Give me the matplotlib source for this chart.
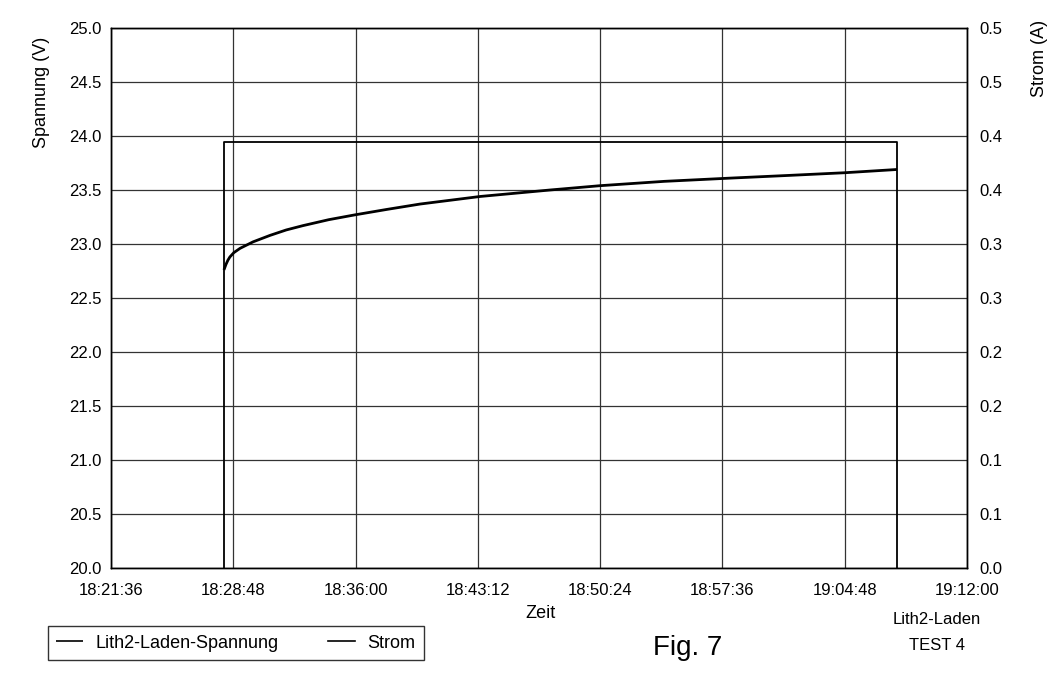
import matplotlib
matplotlib.use("Agg")
import matplotlib.pyplot as plt
from matplotlib.ticker import FuncFormatter, FixedLocator

plt.rcParams['font.family'] = ['Liberation Sans', 'DejaVu Sans']

# --- data -------------------------------------------------------------
x_start = "18:21:36"
x_end = "19:12:00"
tick_step_s = 432  # 7:12

volt_times = ["18:28:15", "18:28:22", "18:28:29", "18:28:36", "18:28:50", "18:29:12",
              "18:29:35", "18:29:58", "18:30:58", "18:31:55",
              "18:32:54", "18:34:25", "18:35:58", "18:37:50", "18:39:48", "18:43:20",
              "18:47:27", "18:50:24", "18:54:10", "18:58:03", "19:01:30", "19:04:49",
              "19:07:53"]
volt_values = [22.76, 22.81, 22.85, 22.88, 22.92, 22.96,
               22.99, 23.02, 23.08, 23.13,
               23.17, 23.225, 23.27, 23.32, 23.37, 23.44,
               23.50, 23.54, 23.58, 23.61, 23.635, 23.66,
               23.69]

curr_times = ["18:28:15", "18:28:15", "19:07:53", "19:07:53"]
curr_values = [0.0, 0.394, 0.394, 0.0]

volt_ticks = [20.0, 20.5, 21.0, 21.5, 22.0, 22.5, 23.0, 23.5, 24.0, 24.5, 25.0]
curr_ticks = [0.0, 0.05, 0.10, 0.15, 0.20, 0.25, 0.30, 0.35, 0.40, 0.45, 0.50]
curr_tick_labels = ["0.0", "0.1", "0.1", "0.2", "0.2", "0.3", "0.3", "0.4", "0.4", "0.5", "0.5"]


def to_s(t):
    h, m, s = (int(v) for v in t.split(":"))
    return h * 3600 + m * 60 + s


def fmt_time(v, pos=None):
    v = int(round(v))
    return f"{v // 3600:02d}:{(v % 3600) // 60:02d}:{v % 60:02d}"


W, H = 1055, 680
fig = plt.figure(figsize=(W / 100, H / 100), dpi=100)
L, R, T, B = 111, 967, 28, 568
ax = fig.add_axes([L / W, 1 - B / H, (R - L) / W, (B - T) / H])
ax2 = ax.twinx()

xs, xe = to_s(x_start), to_s(x_end)
ax.set_xlim(xs, xe)
ax.set_ylim(20, 25)
ax2.set_ylim(0, 0.5)

ax.xaxis.set_major_locator(FixedLocator(list(range(xs, xe + 1, tick_step_s))))
ax.xaxis.set_major_formatter(FuncFormatter(fmt_time))
ax.set_yticks(volt_ticks)
ax.set_yticklabels([f"{v:.1f}" for v in volt_ticks])
ax2.set_yticks(curr_ticks)
ax2.set_yticklabels(curr_tick_labels)

ax.grid(True, color="#333333", linewidth=0.9)
ax.set_axisbelow(True)

lv, = ax.plot([to_s(t) for t in volt_times], volt_values, color="black", lw=2.0,
              solid_joinstyle="round", solid_capstyle="butt")
lc, = ax2.plot([to_s(t) for t in curr_times], curr_values, color="black", lw=1.3)

fs = 12
for a in (ax, ax2):
    a.tick_params(length=0, labelsize=fs)
    for s in a.spines.values():
        s.set_color("black")
        s.set_linewidth(1.0)
ax.tick_params(axis="y", pad=7)
ax.tick_params(axis="x", pad=11)
ax2.tick_params(axis="y", pad=9)

fig.text(42 / W, 1 - 92 / H, "Spannung (V)", rotation=90, ha="center", va="center", fontsize=fs + 1)
fig.text(1040 / W, 1 - 58 / H, "Strom (A)", rotation=90, ha="center", va="center", fontsize=fs + 1)
fig.text(541 / W, 1 - 613 / H, "Zeit", ha="center", va="center", fontsize=fs + 1)
fig.text(937 / W, 1 - 619 / H, "Lith2-Laden", ha="center", va="center", fontsize=fs)
fig.text(937 / W, 1 - 646 / H, "TEST 4", ha="center", va="center", fontsize=fs)
fig.text(688 / W, 1 - 648 / H, "Fig. 7", ha="center", va="center", fontsize=20)

leg = fig.legend([lv, lc], ["Lith2-Laden-Spannung", "Strom"], loc="center left",
                 bbox_to_anchor=(48 / W, 1 - 643 / H), ncol=2, frameon=True,
                 fancybox=False, edgecolor="black", fontsize=fs + 1,
                 handlelength=1.5, columnspacing=2.7, handletextpad=0.7,
                 borderpad=0.45, borderaxespad=0)
leg.get_frame().set_linewidth(1.0)
for h in leg.legend_handles:
    h.set_linewidth(1.2)

fig.savefig("out.png", dpi=100)
